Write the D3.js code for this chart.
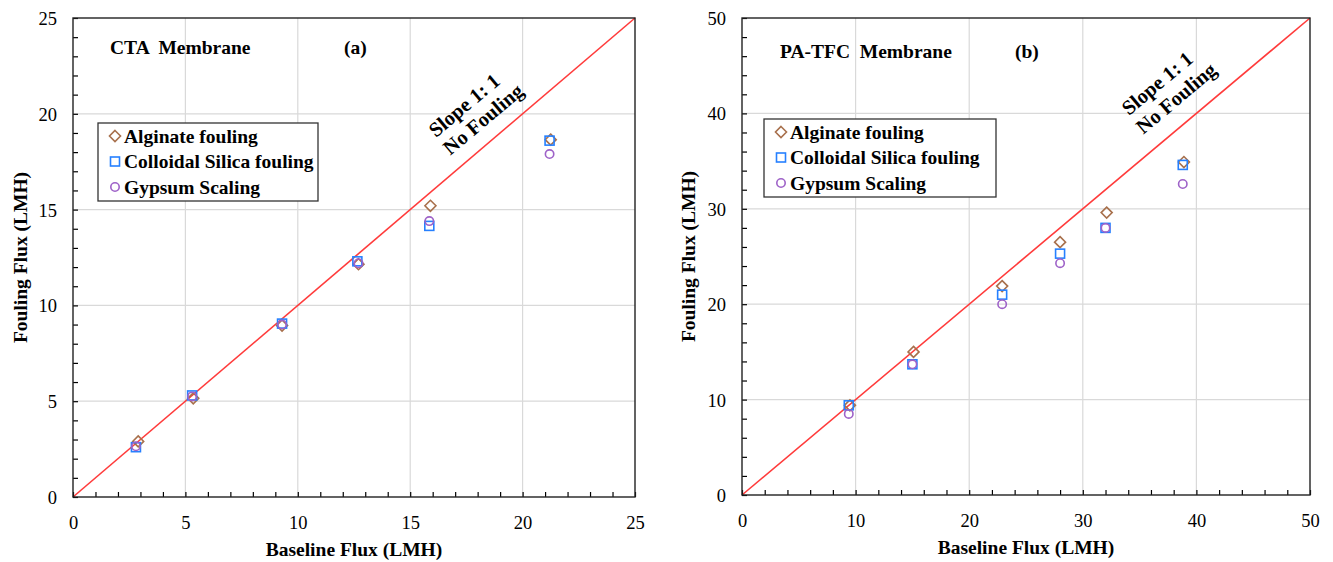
<!DOCTYPE html>
<html>
<head>
<meta charset="utf-8">
<script src="https://cdn.jsdelivr.net/npm/d3@7"></script>
<style>
body{margin:0;background:#fff;}
svg{display:block;font-family:"Liberation Serif","Times New Roman",serif;}
</style>
</head>
<body>
<svg id="chart" width="1333" height="562"></svg>
<script>
// ---- Data ----
const seriesNames = ["Alginate fouling", "Colloidal Silica fouling", "Gypsum Scaling"];
const seriesColors = ["#a8704c", "#2680ff", "#9e62c8"];
const seriesShapes = ["diamond", "square", "circle"];

// Panel (a): CTA membrane
const ctaBaseline = [2.9, 5.35, 9.3, 12.7, 15.9, 21.25];
const ctaAlginate = [2.9, 5.15, 8.95, 12.15, 15.2, 18.65];
const ctaSilicaX  = [2.8, 5.3, 9.3, 12.65, 15.85, 21.2];
const ctaSilica   = [2.6, 5.3, 9.05, 12.3, 14.15, 18.6];
const ctaGypsumX  = [2.8, 5.3, 9.3, 12.7, 15.85, 21.2];
const ctaGypsum   = [2.65, 5.25, 9.0, 12.2, 14.4, 17.9];

// Panel (b): PA-TFC membrane
const tfcBaseline = [9.5, 15.1, 22.9, 28.0, 32.1, 38.9];
const tfcAlginate = [9.4, 15.0, 21.9, 26.5, 29.6, 34.9];
const tfcSilicaX  = [9.4, 15.0, 22.9, 28.0, 32.0, 38.8];
const tfcSilica   = [9.4, 13.7, 21.0, 25.3, 28.0, 34.6];
const tfcGypsumX  = [9.4, 15.0, 22.9, 28.0, 32.0, 38.8];
const tfcGypsum   = [8.5, 13.7, 20.0, 24.3, 28.0, 32.6];

const panels = [
  {title:"CTA  Membrane", tag:"(a)", max:25, major:5, minor:1,
   box:{l:73,r:635,t:18,b:497},
   xs:[ctaBaseline, ctaSilicaX, ctaGypsumX], ys:[ctaAlginate, ctaSilica, ctaGypsum],
   titlePos:[110,54], tagPos:[344,54],
   legend:{x:98,y:123,w:220,h:78},
   slope:[[464,105],[483,119]],
   yTitleX:20, xTitleY:556},
  {title:"PA-TFC  Membrane", tag:"(b)", max:50, major:10, minor:2,
   box:{l:742,r:1310,t:18,b:495},
   xs:[tfcBaseline, tfcSilicaX, tfcGypsumX], ys:[tfcAlginate, tfcSilica, tfcGypsum],
   titlePos:[780,58], tagPos:[1015,58],
   legend:{x:764,y:119,w:232,h:78},
   slope:[[1157,83],[1176,98]],
   yTitleX:688, xTitleY:554}
];

const svg = d3.select("#chart");
const FS = 19.5;

function drawMarker(g, shape, color, cx, cy){
  if(shape==="diamond"){
    g.append("path").attr("d", `M${cx},${cy-5.5}L${cx+5.5},${cy}L${cx},${cy+5.5}L${cx-5.5},${cy}Z`)
      .attr("fill","none").attr("stroke",color).attr("stroke-width",1.6);
  } else if(shape==="square"){
    g.append("rect").attr("x",cx-4.5).attr("y",cy-4.5).attr("width",9).attr("height",9)
      .attr("fill","none").attr("stroke",color).attr("stroke-width",1.6);
  } else {
    g.append("circle").attr("cx",cx).attr("cy",cy).attr("r",4.2)
      .attr("fill","none").attr("stroke",color).attr("stroke-width",1.6);
  }
}

panels.forEach(p=>{
  const x = d3.scaleLinear().domain([0,p.max]).range([p.box.l,p.box.r]);
  const y = d3.scaleLinear().domain([0,p.max]).range([p.box.b,p.box.t]);
  const g = svg.append("g");
  const majors = d3.range(0,p.max+0.001,p.major);
  const minors = d3.range(0,p.max+0.001,p.minor);

  // grid
  g.selectAll(".gx").data(majors.slice(1,-1)).join("line")
    .attr("x1",d=>x(d)).attr("x2",d=>x(d)).attr("y1",p.box.t).attr("y2",p.box.b)
    .attr("stroke","#d9d9d9").attr("stroke-width",1.2);
  g.selectAll(".gy").data(majors.slice(1,-1)).join("line")
    .attr("y1",d=>y(d)).attr("y2",d=>y(d)).attr("x1",p.box.l).attr("x2",p.box.r)
    .attr("stroke","#d9d9d9").attr("stroke-width",1.2);

  // 1:1 line
  g.append("line").attr("x1",x(0)).attr("y1",y(0)).attr("x2",x(p.max)).attr("y2",y(p.max))
    .attr("stroke","#ff3b3b").attr("stroke-width",1.6);

  // axes
  const xAxis = d3.axisBottom(x).tickValues(minors).tickSize(-5).tickFormat(d=> (Math.abs(d % p.major)<1e-9)? d : "");
  const yAxis = d3.axisLeft(y).tickValues(minors).tickSize(-5).tickFormat(d=> (Math.abs(d % p.major)<1e-9)? d : "");
  const gx = g.append("g").attr("transform",`translate(0,${p.box.b})`).call(xAxis);
  const gy = g.append("g").attr("transform",`translate(${p.box.l},0)`).call(yAxis);
  [gx,gy].forEach(a=>{
    a.select(".domain").remove();
    a.selectAll(".tick line").attr("stroke","#000").attr("stroke-width",1.2);
    a.selectAll("text").attr("font-family","Liberation Serif, serif").attr("font-size",18.5).attr("fill","#000");
  });
  gx.selectAll("text").attr("dy","0").attr("y",32);
  gy.selectAll("text").attr("x",-16).attr("dy","0.35em");

  // frame
  g.append("rect").attr("x",p.box.l).attr("y",p.box.t).attr("width",p.box.r-p.box.l).attr("height",p.box.b-p.box.t)
    .attr("fill","none").attr("stroke","#222").attr("stroke-width",1.4);

  // points
  [0,1,2].forEach(si=>{
    p.xs[si].forEach((xv,i)=>{
      drawMarker(g, seriesShapes[si], seriesColors[si], x(xv), y(p.ys[si][i]));
    });
  });

  // titles
  g.append("text").attr("x",p.titlePos[0]).attr("y",p.titlePos[1]).text(p.title)
    .attr("font-weight","bold").attr("font-size",FS).style("white-space","pre");
  g.append("text").attr("x",p.tagPos[0]).attr("y",p.tagPos[1]).text(p.tag)
    .attr("font-weight","bold").attr("font-size",FS);

  // slope text
  ["Slope 1: 1","No Fouling"].forEach((t,i)=>{
    g.append("text").attr("transform",`translate(${p.slope[i][0]},${p.slope[i][1]}) rotate(-40)`)
      .attr("text-anchor","middle").attr("dy","0.35em").attr("font-weight","bold").attr("font-size",20.5).text(t);
  });

  // legend
  const L = p.legend;
  g.append("rect").attr("x",L.x).attr("y",L.y).attr("width",L.w).attr("height",L.h)
    .attr("fill","#fff").attr("stroke","#333").attr("stroke-width",1.3);
  seriesNames.forEach((n,i)=>{
    const cy = L.y + 13 + i*25.5;
    drawMarker(g, seriesShapes[i], seriesColors[i], L.x+17, cy);
    g.append("text").attr("x",L.x+26).attr("y",cy).attr("dy","0.35em")
      .attr("font-weight","bold").attr("font-size",FS).text(n);
  });

  // axis titles
  g.append("text").attr("x",(p.box.l+p.box.r)/2).attr("y",p.xTitleY).attr("text-anchor","middle")
    .attr("font-weight","bold").attr("font-size",FS).text("Baseline Flux (LMH)");
  g.append("text").attr("transform",`translate(${p.yTitleX},${(p.box.t+p.box.b)/2}) rotate(-90)`)
    .attr("text-anchor","middle").attr("dy","0.35em").attr("font-weight","bold").attr("font-size",FS).text("Fouling Flux (LMH)");
});
</script>
</body>
</html>
